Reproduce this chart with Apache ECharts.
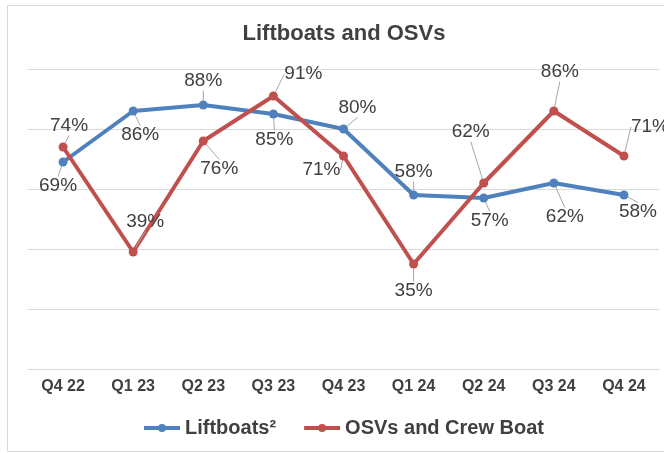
<!DOCTYPE html>
<html>
<head>
<meta charset="utf-8">
<script src="https://cdn.jsdelivr.net/npm/echarts@6/dist/echarts.min.js"></script>
<style>
  html, body { margin: 0; padding: 0; background: #fff; }
  #chart { width: 664px; height: 453px; }
</style>
</head>
<body>
<div id="chart"></div>
<script>
const quarters = ["Q4 22", "Q1 23", "Q2 23", "Q3 23", "Q4 23", "Q1 24", "Q2 24", "Q3 24", "Q4 24"];
const liftboats = [69, 86, 88, 85, 80, 58, 57, 62, 58];
const osvs = [74, 39, 76, 91, 71, 35, 62, 86, 71];

// where each data label sits relative to its point (px)
const liftNudge = [[-5, 24], [7, 24], [0, -24], [1, 26], [14, -21], [0, -23], [6, 23], [11, 34], [14, 17]];
const osvNudge = [[6, -21], [12, -30], [16, 28], [30, -22], [-22, 14], [0, 27], [-13, -51], [6, -39], [26, -29]];

const textColor = "#404040";
const gridColor = "#D9D9D9";
const font = "Liberation Sans, Arial, sans-serif";

function labelled(name, values, color, nudge) {
  return {
    name: name,
    type: "line",
    data: values,
    symbol: "circle",
    symbolSize: 9,
    lineStyle: { width: 4, color: color },
    itemStyle: { color: color },
    label: {
      show: true,
      position: "inside",
      formatter: "{c}%",
      fontSize: 19,
      fontFamily: font,
      color: textColor,
    },
    labelLine: { show: true, lineStyle: { color: "#A6A6A6", width: 1 } },
    labelLayout: (p) => ({ dx: nudge[p.dataIndex][0], dy: nudge[p.dataIndex][1] }),
    emphasis: { disabled: true },
  };
}

const chart = echarts.init(document.getElementById("chart"));
chart.setOption({
  animation: false,
  graphic: [
    {
      type: "rect",
      shape: { x: 7.5, y: 5.5, width: 700, height: 446 },
      style: { fill: "none", stroke: gridColor, lineWidth: 1 },
      silent: true,
    },
  ],
  title: {
    text: "Liftboats and OSVs",
    left: 344,
    top: 23,
    textAlign: "center",
    padding: 0,
    textStyle: { fontSize: 22, fontWeight: "bold", color: textColor, fontFamily: font },
  },
  legend: {
    data: ["Liftboats²", "OSVs and Crew Boat"],
    left: 137,
    top: 413,
    itemWidth: 36,
    itemHeight: 10,
    itemGap: 26,
    lineStyle: { width: 4 },
    textStyle: { fontSize: 20, fontWeight: "bold", color: textColor, fontFamily: font },
  },
  grid: { left: 28, right: 5, top: 69, height: 300, containLabel: false },
  xAxis: {
    type: "category",
    data: quarters,
    axisLine: { lineStyle: { color: gridColor, width: 1 } },
    axisTick: { show: false },
    axisLabel: { fontSize: 16, fontWeight: "bold", color: textColor, fontFamily: font, margin: 10 },
  },
  yAxis: {
    type: "value",
    min: 0,
    max: 100,
    interval: 20,
    axisLabel: { show: false },
    axisLine: { show: false },
    axisTick: { show: false },
    splitLine: { lineStyle: { color: gridColor, width: 1 } },
  },
  series: [
    labelled("Liftboats²", liftboats, "#4F81BD", liftNudge),
    labelled("OSVs and Crew Boat", osvs, "#C0504D", osvNudge),
  ],
});
</script>
</body>
</html>
